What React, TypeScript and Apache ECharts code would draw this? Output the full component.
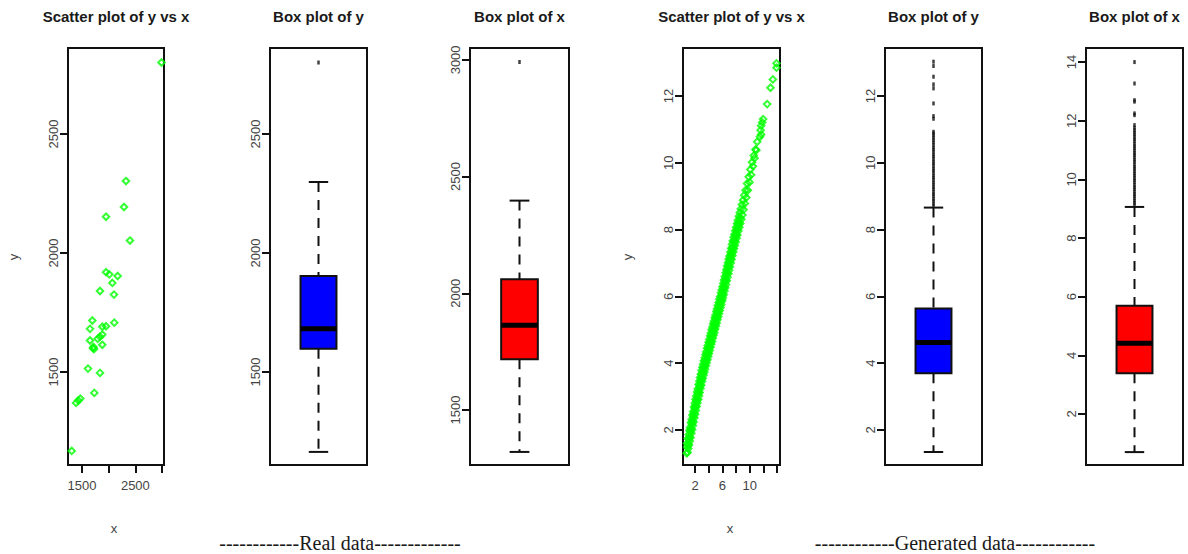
import React, { useEffect, useRef } from "react";
import * as echarts from "echarts";

// ---------- data ----------
const panelTitles = [
  "Scatter plot of y vs x",
  "Box plot of y",
  "Box plot of x",
  "Scatter plot of y vs x",
  "Box plot of y",
  "Box plot of x",
];
const captionReal = "------------Real data-------------";
const captionGen = "------------Generated data------------";

// Real data: [x, y]
const realPoints = [
  [2990, 2800], [2324, 2302], [2287, 2193], [1950, 2152], [2399, 2052],
  [1950, 1919], [2011, 1910], [2168, 1903], [2068, 1874], [2099, 1825],
  [1837, 1840], [1693, 1716], [1650, 1681], [2105, 1707], [1880, 1690],
  [1950, 1692], [1650, 1632], [1794, 1639], [1837, 1648], [1880, 1657],
  [1880, 1614], [1705, 1600], [1715, 1605], [1725, 1596], [1612, 1514],
  [1837, 1496], [1730, 1412], [1388, 1370], [1431, 1380], [1468, 1388],
  [1307, 1168],
];
// box stats: [min, q1, median, q3, max]
const realYStats = [1164, 1597, 1681, 1903, 2298];
const realYOutliers = [2800];
const realXStats = [1320, 1717, 1863, 2060, 2397];
const realXOutliers = [2991];

// Generated data: [x, y]
const genPoints = [
  [0.78, 1.3], [0.84, 1.6], [0.9, 1.33], [0.95, 1.74], [1.01, 1.44], [1.07, 1.86], [1.12, 1.55],
  [1.18, 1.99], [1.23, 1.66], [1.29, 2.08], [1.34, 1.77], [1.4, 2.22], [1.46, 1.9], [1.51, 2.32],
  [1.57, 2.01], [1.62, 2.45], [1.68, 2.13], [1.73, 2.55], [1.79, 2.24], [1.85, 2.69], [1.9, 2.36],
  [1.96, 2.8], [2.01, 2.47], [2.07, 2.92], [2.12, 2.58], [2.18, 3.02], [2.24, 2.7], [2.29, 3.14],
  [2.35, 2.81], [2.4, 3.23], [2.46, 2.91], [2.52, 3.36], [2.57, 3.02], [2.63, 3.46], [2.68, 3.12],
  [2.74, 3.57], [2.8, 3.24], [2.85, 3.67], [2.91, 3.34], [2.96, 3.78], [3.02, 3.45], [3.08, 3.88],
  [3.13, 3.54], [3.19, 3.97], [3.25, 3.64], [3.3, 4.07], [3.36, 3.73], [3.42, 4.16], [3.47, 3.82],
  [3.53, 4.26], [3.59, 3.92], [3.64, 4.34], [3.7, 4.01], [3.76, 4.45], [3.81, 4.1], [3.87, 4.53],
  [3.93, 4.2], [3.98, 4.63], [4.04, 4.29], [4.1, 4.72], [4.15, 4.38], [4.21, 4.82], [4.27, 4.48],
  [4.32, 4.9], [4.38, 4.57], [4.44, 5.0], [4.49, 4.65], [4.55, 5.08], [4.61, 4.75], [4.66, 5.18],
  [4.72, 4.84], [4.78, 5.26], [4.83, 4.92], [4.89, 5.36], [4.95, 5.02], [5.0, 5.44], [5.06, 5.11],
  [5.12, 5.55], [5.17, 5.2], [5.23, 5.63], [5.29, 5.3], [5.34, 5.73], [5.4, 5.39], [5.46, 5.82],
  [5.51, 5.48], [5.57, 5.92], [5.63, 5.58], [5.68, 6.0], [5.74, 5.67], [5.8, 6.11], [5.85, 5.76],
  [5.91, 6.19], [5.97, 5.86], [6.02, 6.29], [6.08, 5.95], [6.14, 6.39], [6.19, 6.05], [6.25, 6.49],
  [6.31, 6.16], [6.36, 6.59], [6.42, 6.26], [6.48, 6.71], [6.53, 6.36], [6.59, 6.8], [6.65, 6.47],
  [6.7, 6.91], [6.76, 6.57], [6.82, 7.01], [6.88, 6.68], [6.93, 7.12], [6.99, 6.78], [7.05, 7.21],
  [7.11, 6.89], [7.17, 7.33], [7.23, 7.0], [7.29, 7.44], [7.35, 7.11], [7.41, 7.56], [7.47, 7.22],
  [7.53, 7.66], [7.59, 7.33], [7.65, 7.77], [7.71, 7.43], [7.77, 7.86], [7.83, 7.53], [7.89, 7.97],
  [7.95, 7.63], [8.02, 8.07], [8.08, 7.74], [8.15, 8.18], [8.21, 7.84], [8.28, 8.28], [8.35, 7.96],
  [8.42, 8.4], [8.49, 8.07], [8.56, 8.51], [8.63, 8.18], [8.7, 8.62], [8.78, 8.31], [8.86, 8.75],
  [8.94, 8.44], [9.02, 8.88], [9.11, 8.6], [9.2, 9.03], [9.3, 8.78], [9.4, 9.18], [9.5, 8.96],
  [9.62, 9.38], [9.74, 9.18], [9.86, 9.58], [9.98, 9.42], [10.1, 9.8], [10.22, 9.64], [10.35, 10.02],
  [10.48, 9.9], [10.6, 10.22], [10.72, 10.14], [10.85, 10.4], [10.98, 10.38], [11.1, 10.63],
  [11.5, 10.78], [11.68, 10.85], [11.6, 10.98], [11.68, 11.11], [11.83, 11.21], [11.97, 11.31],
  [12.56, 11.76], [13.05, 12.25], [13.4, 12.5], [13.93, 12.85], [13.93, 12.98],
];
// points in the middle of the dense band
const genPointsCore = [
  [0.87, 1.49], [0.98, 1.57], [1.09, 1.72], [1.2, 1.8], [1.31, 1.95], [1.42, 2.03], [1.53, 2.18],
  [1.64, 2.26], [1.75, 2.41], [1.86, 2.49], [1.97, 2.64], [2.08, 2.71], [2.19, 2.86], [2.3, 2.92],
  [2.41, 3.07], [2.52, 3.13], [2.63, 3.28], [2.74, 3.35], [2.85, 3.49], [2.96, 3.56], [3.07, 3.7],
  [3.18, 3.75], [3.29, 3.88], [3.4, 3.93], [3.51, 4.06], [3.62, 4.11], [3.73, 4.25], [3.84, 4.3],
  [3.95, 4.43], [4.06, 4.48], [4.17, 4.61], [4.28, 4.66], [4.39, 4.79], [4.5, 4.84], [4.61, 4.96],
  [4.72, 5.01], [4.83, 5.14], [4.94, 5.19], [5.05, 5.32], [5.16, 5.37], [5.27, 5.5], [5.38, 5.55],
  [5.49, 5.68], [5.6, 5.73], [5.71, 5.85], [5.82, 5.9], [5.93, 6.03], [6.04, 6.09], [6.15, 6.23],
  [6.26, 6.29], [6.37, 6.43], [6.48, 6.49], [6.59, 6.63], [6.7, 6.69], [6.81, 6.84], [6.92, 6.9],
  [7.03, 7.04], [7.14, 7.1], [7.25, 7.24], [7.36, 7.3], [7.47, 7.44], [7.58, 7.5], [7.69, 7.63],
  [7.8, 7.68], [7.91, 7.81], [8.02, 7.86], [8.13, 7.99], [8.24, 8.04], [8.35, 8.17], [8.46, 8.22],
  [8.57, 8.35],
];
const genYStats = [1.34, 3.7, 4.62, 5.64, 8.66];
const genYOutliers = [
  8.72, 8.78, 8.86, 8.92, 9.0, 9.06, 9.13, 9.21, 9.27, 9.35, 9.41, 9.49, 9.56, 9.62, 9.7,
  9.77, 9.83, 9.91, 9.98, 10.04, 10.12, 10.19, 10.25, 10.33, 10.4, 10.46, 10.54, 10.61,
  10.68, 10.75, 10.82, 10.88, 10.93, 11.32, 11.4, 11.78, 12.23, 12.35, 12.58, 12.9, 13.03,
];
const genXStats = [0.7, 3.39, 4.41, 5.69, 9.06];
const genXOutliers = [
  9.12, 9.2, 9.27, 9.35, 9.43, 9.5, 9.58, 9.66, 9.73, 9.81, 9.9, 9.97, 10.05, 10.13, 10.2,
  10.28, 10.36, 10.43, 10.51, 10.6, 10.67, 10.75, 10.83, 10.9, 10.98, 11.06, 11.13, 11.21,
  11.3, 11.37, 11.45, 11.53, 11.6, 11.68, 11.76, 11.85, 12.19, 12.25, 12.65, 12.7, 13.27, 14.0,
];

// axis ticks / labels
const realXTicks = [1500, 2000, 2500, 3000];
const realXLabels = [1500, 2500];
const realYTicks = [1500, 2000, 2500];
const realXBoxTicks = [1500, 2000, 2500, 3000];
const genXTicks = [2, 4, 6, 8, 10, 12, 14];
const genXLabels = [2, 6, 10];
const genYTicks = [2, 4, 6, 8, 10, 12];
const genXBoxTicks = [2, 4, 6, 8, 10, 12, 14];

const INK = "#111";
const LABEL = "#444";
const SANS = '"Liberation Sans", Arial, Helvetica, sans-serif';

const grids = [
  { left: 68, top: 48, width: 96, height: 417 },
  { left: 270, top: 48, width: 97, height: 417 },
  { left: 470, top: 48, width: 99, height: 417 },
  { left: 683, top: 48, width: 97, height: 417 },
  { left: 885, top: 48, width: 97, height: 417 },
  { left: 1086, top: 48, width: 97, height: 417 },
];

const plain = (v: number) => String(v);

function yAxis(gridIndex: number, min: number, max: number, ticks: number[]) {
  return {
    type: "value",
    gridIndex,
    min,
    max,
    axisLine: { show: false },
    axisTick: { show: true, inside: false, length: 8, customValues: ticks, lineStyle: { color: INK, width: 2 } },
    axisLabel: {
      show: true, customValues: ticks, rotate: 90, margin: 8, fontSize: 13, color: LABEL, fontFamily: SANS,
      formatter: plain,
    },
    splitLine: { show: false },
  };
}
function xAxisVal(gridIndex: number, min: number, max: number, ticks: number[], labels: number[]) {
  return {
    type: "value",
    gridIndex,
    min,
    max,
    axisLine: { show: false },
    axisTick: { show: true, inside: false, length: 8, customValues: ticks, lineStyle: { color: INK, width: 2 } },
    axisLabel: {
      show: true, customValues: labels, margin: 14, fontSize: 13, color: LABEL, fontFamily: SANS,
      formatter: plain,
    },
    splitLine: { show: false },
  };
}
function xAxisBox(gridIndex: number) {
  return { type: "value", gridIndex, min: 0.46, max: 1.54, show: false };
}

function boxSeries(idx: number, stats: number[], fill: string) {
  return {
    type: "custom",
    xAxisIndex: idx,
    yAxisIndex: idx,
    clip: false,
    data: [[1, ...stats]],
    encode: { x: 0, y: [1, 2, 3, 4, 5] },
    renderItem: (params: any, api: any) => {
      const xv = api.value(0);
      const lo = api.coord([xv, api.value(1)]);
      const q1 = api.coord([xv, api.value(2)]);
      const md = api.coord([xv, api.value(3)]);
      const q3 = api.coord([xv, api.value(4)]);
      const hi = api.coord([xv, api.value(5)]);
      const bw = api.size([0.4, 0])[0];
      const cx = lo[0];
      const cap = bw * 0.27;
      const dash = { stroke: INK, lineWidth: 2, lineDash: [10, 8] };
      const solid = { stroke: INK, lineWidth: 2 };
      return {
        type: "group",
        children: [
          { type: "line", shape: { x1: cx, y1: hi[1], x2: cx, y2: q3[1] }, style: dash },
          { type: "line", shape: { x1: cx, y1: q1[1], x2: cx, y2: lo[1] }, style: dash },
          { type: "line", shape: { x1: cx - cap, y1: hi[1], x2: cx + cap, y2: hi[1] }, style: solid },
          { type: "line", shape: { x1: cx - cap, y1: lo[1], x2: cx + cap, y2: lo[1] }, style: solid },
          {
            type: "rect",
            shape: { x: cx - bw / 2, y: q3[1], width: bw, height: q1[1] - q3[1] },
            style: { fill, stroke: INK, lineWidth: 2 },
          },
          { type: "line", shape: { x1: cx - bw / 2, y1: md[1], x2: cx + bw / 2, y2: md[1] }, style: { stroke: "#000", lineWidth: 5 } },
        ],
      };
    },
  };
}
function outlierSeries(idx: number, vals: number[]) {
  return {
    type: "scatter",
    xAxisIndex: idx,
    yAxisIndex: idx,
    symbol: "rect",
    symbolSize: [2.5, 4],
    itemStyle: { color: INK },
    data: vals.map((v) => [1, v]),
  };
}
function pointSeries(idx: number, pts: number[][]) {
  return {
    type: "scatter",
    xAxisIndex: idx,
    yAxisIndex: idx,
    symbol: "diamond",
    symbolSize: 6.5,
    itemStyle: { color: "rgba(0,0,0,0)", borderColor: "#00ff00", borderWidth: 2 },
    data: pts,
  };
}

export default function App() {
  const ref = useRef<HTMLDivElement>(null);
  useEffect(() => {
    if (!ref.current) return;
    const chart = echarts.init(ref.current, null, { renderer: "svg" });
    const titleFont = `bold 15px ${SANS}`;
    const graphic: any[] = [];
    grids.forEach((g, i) => {
      graphic.push({
        type: "text",
        x: g.left + g.width / 2,
        y: 16,
        style: { text: panelTitles[i], font: titleFont, fill: "#1a1a1a", align: "center", verticalAlign: "middle" },
      });
    });
    const axisNameFont = `13px ${SANS}`;
    [
      { x: 13, y: 257, t: "y", r: Math.PI / 2 },
      { x: 114, y: 528, t: "x", r: 0 },
      { x: 627, y: 257, t: "y", r: Math.PI / 2 },
      { x: 730, y: 528, t: "x", r: 0 },
    ].forEach((a) =>
      graphic.push({
        type: "text",
        x: a.x,
        y: a.y,
        rotation: a.r,
        style: { text: a.t, font: axisNameFont, fill: LABEL, align: "center", verticalAlign: "middle" },
      })
    );
    const capFont = `20px "Liberation Serif", "Times New Roman", serif`;
    graphic.push({
      type: "text",
      x: 340,
      y: 543,
      style: { text: captionReal, font: capFont, fill: "#1a1a1a", align: "center", verticalAlign: "middle" },
    });
    graphic.push({
      type: "text",
      x: 955,
      y: 543,
      style: { text: captionGen, font: capFont, fill: "#1a1a1a", align: "center", verticalAlign: "middle" },
    });

    chart.setOption({
      animation: false,
      backgroundColor: "#ffffff",
      grid: grids.map((g) => ({ ...g, show: true, borderColor: INK, borderWidth: 2, backgroundColor: "transparent" })),
      xAxis: [
        xAxisVal(0, 1237, 3037, realXTicks, realXLabels),
        xAxisBox(1),
        xAxisBox(2),
        xAxisVal(3, 0.24, 14.44, genXTicks, genXLabels),
        xAxisBox(4),
        xAxisBox(5),
      ],
      yAxis: [
        yAxis(0, 1109, 2861, realYTicks),
        yAxis(1, 1109, 2861, realYTicks),
        yAxis(2, 1264, 3051, realXBoxTicks),
        yAxis(3, 0.95, 13.44, genYTicks),
        yAxis(4, 0.95, 13.44, genYTicks),
        yAxis(5, 0.26, 14.48, genXBoxTicks),
      ],
      series: [
        pointSeries(0, realPoints),
        boxSeries(1, realYStats, "#0000ff"),
        outlierSeries(1, realYOutliers),
        boxSeries(2, realXStats, "#ff0000"),
        outlierSeries(2, realXOutliers),
        pointSeries(3, [...genPoints, ...genPointsCore]),
        boxSeries(4, genYStats, "#0000ff"),
        outlierSeries(4, genYOutliers),
        boxSeries(5, genXStats, "#ff0000"),
        outlierSeries(5, genXOutliers),
      ],
      graphic,
    });
    return () => chart.dispose();
  }, []);
  return (
    <div
      ref={ref}
      style={{ position: "absolute", left: 0, top: 0, width: 1188, height: 554, background: "#fff" }}
    />
  );
}
